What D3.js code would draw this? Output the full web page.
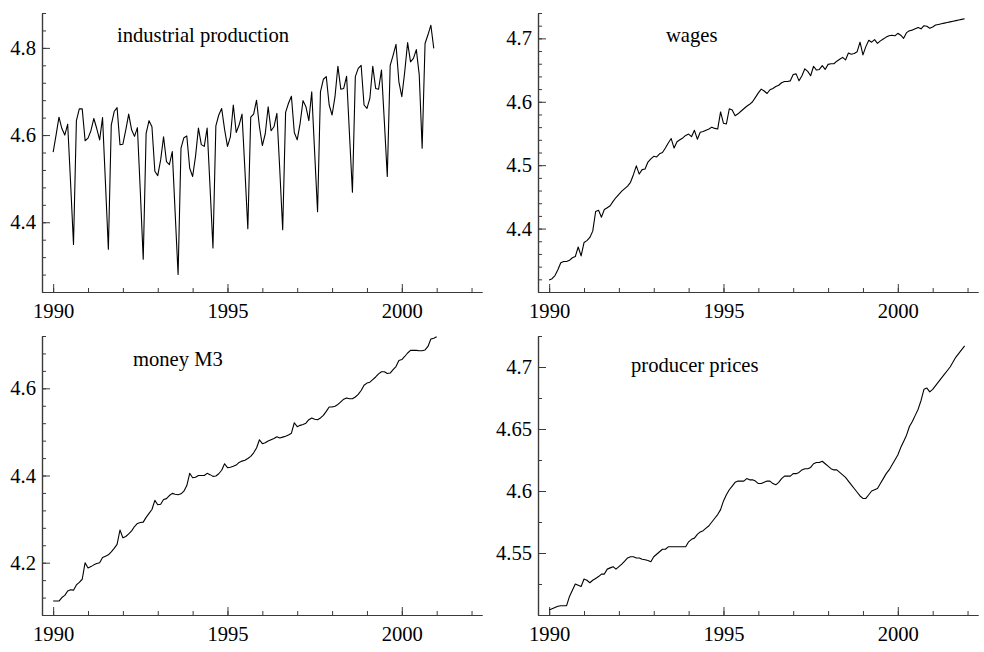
<!DOCTYPE html>
<html>
<head>
<meta charset="utf-8">
<script src="https://cdn.jsdelivr.net/npm/d3@7"></script>
<style>
  html, body { margin: 0; padding: 0; background: #fff; }
  svg text { font-family: "Liberation Serif", "Times New Roman", serif; fill: #000; }
</style>
</head>
<body>
<svg id="chart" width="984" height="652"></svg>
<script>
// Monthly series (log levels), starting January 1990
const startYear = 1990;

const industrialProduction = [
  4.561, 4.600, 4.641, 4.615, 4.600, 4.625, 4.490, 4.349, 4.633, 4.660, 4.660, 4.587,
  4.593, 4.610, 4.638, 4.615, 4.589, 4.640, 4.490, 4.338, 4.623, 4.654, 4.663, 4.578,
  4.579, 4.612, 4.648, 4.612, 4.597, 4.617, 4.470, 4.315, 4.604, 4.633, 4.619, 4.517,
  4.507, 4.543, 4.596, 4.539, 4.532, 4.562, 4.420, 4.280, 4.570, 4.594, 4.598, 4.524,
  4.505, 4.551, 4.616, 4.578, 4.574, 4.616, 4.480, 4.341, 4.621, 4.646, 4.661, 4.613,
  4.574, 4.596, 4.669, 4.606, 4.623, 4.648, 4.520, 4.385, 4.641, 4.648, 4.680, 4.619,
  4.576, 4.603, 4.665, 4.610, 4.619, 4.650, 4.520, 4.383, 4.652, 4.673, 4.689, 4.606,
  4.589, 4.627, 4.679, 4.665, 4.633, 4.699, 4.560, 4.424, 4.699, 4.728, 4.734, 4.669,
  4.646, 4.688, 4.758, 4.705, 4.707, 4.735, 4.600, 4.469, 4.734, 4.753, 4.760, 4.669,
  4.661, 4.684, 4.758, 4.707, 4.705, 4.749, 4.630, 4.505, 4.760, 4.783, 4.808, 4.722,
  4.688, 4.745, 4.812, 4.768, 4.776, 4.796, 4.738, 4.570, 4.810, 4.830, 4.852, 4.799
];

const wages = [
  4.319, 4.321, 4.326, 4.335, 4.346, 4.348, 4.348, 4.350, 4.354, 4.356, 4.371, 4.357,
  4.378, 4.381, 4.386, 4.396, 4.427, 4.429, 4.418, 4.430, 4.433, 4.436, 4.443, 4.449,
  4.454, 4.459, 4.463, 4.467, 4.473, 4.485, 4.499, 4.486, 4.493, 4.494, 4.505, 4.510,
  4.514, 4.513, 4.518, 4.520, 4.527, 4.535, 4.542, 4.527, 4.537, 4.540, 4.543, 4.547,
  4.549, 4.545, 4.555, 4.541, 4.552, 4.553, 4.555, 4.557, 4.560, 4.558, 4.557, 4.584,
  4.566, 4.565, 4.589, 4.587, 4.578, 4.581, 4.585, 4.589, 4.593, 4.596, 4.600, 4.607,
  4.614, 4.620, 4.617, 4.613, 4.619, 4.621, 4.624, 4.626, 4.630, 4.632, 4.632, 4.633,
  4.643, 4.644, 4.633, 4.641, 4.652, 4.648, 4.641, 4.656, 4.650, 4.651, 4.657, 4.651,
  4.659, 4.660, 4.660, 4.664, 4.667, 4.670, 4.666, 4.677, 4.675, 4.676, 4.679, 4.694,
  4.674, 4.687, 4.697, 4.694, 4.698, 4.692, 4.696, 4.699, 4.702, 4.704, 4.705, 4.704,
  4.708, 4.705, 4.700, 4.709, 4.712, 4.713, 4.715, 4.717, 4.715, 4.720, 4.719, 4.716,
  4.718, 4.721, 4.722, 4.723, 4.724, 4.725, 4.726, 4.727, 4.728, 4.729, 4.730, 4.731
];

const moneyM3 = [
  4.112, 4.112, 4.112, 4.120, 4.125, 4.135, 4.138, 4.137, 4.149, 4.155, 4.162, 4.200,
  4.188, 4.191, 4.195, 4.198, 4.200, 4.212, 4.215, 4.218, 4.225, 4.233, 4.242, 4.275,
  4.257, 4.260, 4.266, 4.273, 4.283, 4.290, 4.292, 4.293, 4.304, 4.313, 4.322, 4.343,
  4.333, 4.334, 4.345, 4.347, 4.354, 4.359, 4.357, 4.356, 4.358, 4.364, 4.377, 4.405,
  4.395, 4.396, 4.400, 4.400, 4.400, 4.405, 4.402, 4.398, 4.399, 4.404, 4.412, 4.427,
  4.418, 4.419, 4.421, 4.424, 4.430, 4.433, 4.435, 4.439, 4.444, 4.452, 4.463, 4.482,
  4.473, 4.475, 4.479, 4.482, 4.485, 4.489, 4.486, 4.488, 4.490, 4.493, 4.497, 4.521,
  4.512, 4.515, 4.517, 4.520, 4.528, 4.532, 4.529, 4.528, 4.532, 4.538, 4.547, 4.557,
  4.557, 4.559, 4.563, 4.569, 4.575, 4.578, 4.576, 4.576, 4.580, 4.586, 4.595, 4.607,
  4.612, 4.614, 4.620, 4.626, 4.633, 4.638, 4.638, 4.634, 4.635, 4.643, 4.650, 4.664,
  4.666, 4.673, 4.681, 4.687, 4.687, 4.687, 4.686, 4.686, 4.688, 4.696, 4.713, 4.715,
  4.718
];

const producerPrices = [
  4.504, 4.505, 4.506, 4.507, 4.5075, 4.5075, 4.5075, 4.515, 4.520, 4.525, 4.524, 4.523,
  4.529, 4.528, 4.526, 4.528, 4.5295, 4.531, 4.533, 4.533, 4.537, 4.538, 4.539, 4.537,
  4.539, 4.541, 4.5435, 4.546, 4.547, 4.547, 4.546, 4.546, 4.545, 4.5445, 4.544, 4.543,
  4.547, 4.549, 4.551, 4.553, 4.553, 4.555, 4.555, 4.555, 4.555, 4.555, 4.555, 4.555,
  4.559, 4.561, 4.562, 4.565, 4.567, 4.568, 4.570, 4.572, 4.575, 4.578, 4.581, 4.585,
  4.592, 4.597, 4.601, 4.604, 4.607, 4.608, 4.608, 4.608, 4.610, 4.609, 4.609, 4.608,
  4.606, 4.606, 4.607, 4.608, 4.608, 4.606, 4.605, 4.607, 4.610, 4.612, 4.612, 4.612,
  4.614, 4.614, 4.615, 4.617, 4.618, 4.618, 4.619, 4.622, 4.623, 4.623, 4.624, 4.622,
  4.620, 4.618, 4.617, 4.617, 4.615, 4.613, 4.611, 4.608, 4.605, 4.602, 4.599, 4.596,
  4.594, 4.594, 4.597, 4.600, 4.601, 4.602, 4.606, 4.610, 4.614, 4.617, 4.621, 4.625,
  4.629, 4.635, 4.640, 4.645, 4.652, 4.656, 4.661, 4.666, 4.673, 4.682, 4.683, 4.680,
  4.682, 4.685, 4.688, 4.691, 4.694, 4.697, 4.700, 4.704, 4.708, 4.711, 4.714, 4.717
];

const panelTitles = ["industrial production", "wages", "money M3", "producer prices"];
const yearTicks = d3.range(1990, 2003);
const labelledYears = [1990, 1995, 2000];
const yMajorTicks = [
  [4.4, 4.6, 4.8],
  [4.4, 4.5, 4.6, 4.7],
  [4.2, 4.4, 4.6],
  [4.55, 4.6, 4.65, 4.7]
];
const yMinorSteps = [0.04, 0.02, 0.04, 0.025];
const yDomains = [[4.24, 4.88], [4.30, 4.74], [4.08, 4.72], [4.50, 4.725]];
const xDomain = [1989.68, 2002.3];

const seriesList = [industrialProduction, wages, moneyM3, producerPrices];

// Layout of the 2x2 grid (pixel frames of each plot area)
const frames = [
  { left: 42,  right: 482, top: 13,  bottom: 292, titleX: 117, titleY: 41.5 },
  { left: 538, right: 978, top: 13,  bottom: 292, titleX: 666, titleY: 41.5 },
  { left: 42,  right: 482, top: 336, bottom: 615, titleX: 133, titleY: 366 },
  { left: 538, right: 978, top: 336, bottom: 615, titleX: 631, titleY: 371.5 }
];

const svg = d3.select("#chart");
const axisColor = "#3a3a3a";
const fontSize = 20.6;
const fontFamily = "'Liberation Serif', 'Times New Roman', serif";

seriesList.forEach((values, i) => {
  const f = frames[i];
  const x = d3.scaleLinear().domain(xDomain).range([f.left, f.right]);
  const y = d3.scaleLinear().domain(yDomains[i]).range([f.bottom, f.top]);
  const g = svg.append("g");

  // minor tick positions on the value axis
  const step = yMinorSteps[i];
  const [y0, y1] = yDomains[i];
  const minorY = d3.range(Math.ceil(y0 / step - 1e-6), Math.floor(y1 / step + 1e-6) + 1)
    .map(n => +(n * step).toFixed(4));

  // ticks point inward: negative inner size
  const xMinor = d3.axisBottom(x).tickValues(yearTicks).tickSizeInner(-4).tickSizeOuter(0).tickFormat("");
  const xMajor = d3.axisBottom(x).tickValues(labelledYears).tickSizeInner(-8).tickSizeOuter(0)
    .tickPadding(11).tickFormat(d3.format("d"));
  const yMinor = d3.axisLeft(y).tickValues(minorY).tickSizeInner(-4).tickSizeOuter(0).tickFormat("");
  const yMajor = d3.axisLeft(y).tickValues(yMajorTicks[i]).tickSizeInner(-8).tickSizeOuter(0)
    .tickPadding(6).tickFormat(d => String(d));

  const gx = g.append("g").attr("transform", `translate(0,${f.bottom})`);
  gx.append("g").call(xMinor);
  gx.append("g").call(xMajor);
  const gy = g.append("g").attr("transform", `translate(${f.left},0)`);
  gy.append("g").call(yMinor);
  gy.append("g").call(yMajor);

  g.selectAll("g").attr("font-family", fontFamily).attr("font-size", fontSize);
  g.selectAll(".domain").attr("stroke", axisColor).attr("stroke-width", 1.2);
  g.selectAll(".tick line").attr("stroke", axisColor).attr("stroke-width", 1);
  g.selectAll(".tick text").attr("fill", "#000");

  // the series line
  const line = d3.line()
    .x((d, k) => x(startYear + k / 12))
    .y(d => y(d));
  g.append("path")
    .datum(values)
    .attr("fill", "none")
    .attr("stroke", "#000")
    .attr("stroke-width", 1.1)
    .attr("stroke-linejoin", "round")
    .attr("d", line);

  g.append("text")
    .attr("x", f.titleX)
    .attr("y", f.titleY)
    .attr("font-size", fontSize)
    .text(panelTitles[i]);
});
</script>
</body>
</html>
